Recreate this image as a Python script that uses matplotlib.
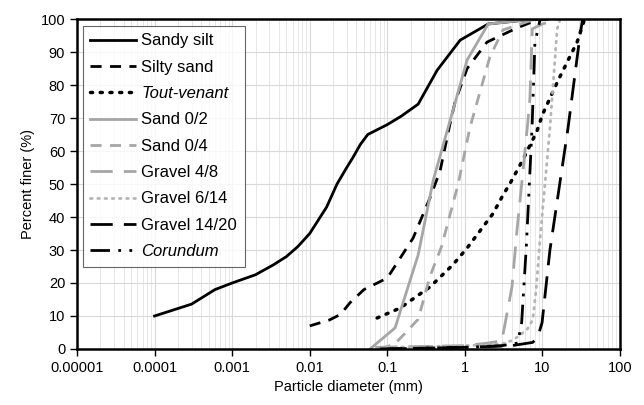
import matplotlib
matplotlib.use('Agg')
import matplotlib.pyplot as plt
from matplotlib.ticker import FixedLocator, LogLocator, NullFormatter

plt.rcParams['font.family'] = ['Liberation Sans', 'DejaVu Sans']

# grain size curves: diameter (mm) and percent finer
silt_d = [0.0001, 0.0003, 0.0006, 0.001, 0.002, 0.0034, 0.005, 0.007, 0.01, 0.0165, 0.0225, 0.03, 0.036, 0.045, 0.056, 0.1, 0.15, 0.25, 0.44, 0.87, 2, 5, 10]
silt_p = [10, 13.6, 18, 20, 22.5, 25.5, 28, 31, 35, 43, 50, 55, 58, 62, 65, 68, 70.5, 74.2, 84.5, 93.6, 98.5, 99.5, 100]

silty_d = [0.01, 0.018, 0.025, 0.033, 0.05, 0.1, 0.215, 0.355, 0.48, 0.64, 0.75, 1.07, 1.93, 4.7, 8.5, 12]
silty_p = [7, 8.8, 10.5, 14, 18, 21.5, 33.6, 45.8, 54, 68, 75, 85, 93, 97.3, 99.7, 100]

tout_d = [0.074, 0.146, 0.355, 0.7, 1.07, 2.3, 3.0, 4.0, 5.5, 8.5, 10, 16, 28, 35]
tout_p = [9.4, 12.4, 18.8, 25.5, 30.6, 41, 46, 51, 57, 66, 71, 81.5, 93, 100]

sand02_d = [0.06, 0.126, 0.25, 0.39, 1.07, 2, 5, 8]
sand02_p = [0, 6.4, 28.5, 51, 87.6, 98.5, 99.5, 100]

sand04_d = [0.08, 0.125, 0.25, 0.355, 0.5, 0.82, 1.16, 2.1, 3.1, 7, 10]
sand04_p = [0, 1.5, 9, 22, 31, 50, 67, 88.5, 96.7, 99.5, 100]

g48_d = [0.07, 1, 2, 3, 4.05, 4.7, 5.46, 6.5, 6.9, 7.4, 10, 16]
g48_p = [0.5, 1, 1.8, 2.5, 18.8, 36, 51, 69, 76, 97, 98.5, 100]

g614_d = [0.1, 1, 3, 4.2, 6.3, 7.5, 8.3, 9.3, 12.5, 15.5, 17]
g614_p = [0.5, 1, 1.5, 2.7, 5.8, 8.8, 18, 33, 67, 97, 100]

g1420_d = [0.08, 1, 4, 7.5, 8.7, 9.9, 12.5, 21.4, 30.5, 33]
g1420_p = [0, 0.5, 1, 2, 3.6, 8, 30, 67, 95, 100]

cor_d = [0.1, 1, 3, 4.8, 5.4, 6.2, 7.35, 8.0, 9.3, 10]
cor_p = [0, 0.5, 1, 1.8, 8, 31, 67, 92.7, 99.7, 100]

labels = ['Sandy silt', 'Silty sand', 'Tout-venant', 'Sand 0/2', 'Sand 0/4',
          'Gravel 4/8', 'Gravel 6/14', 'Gravel 14/20', 'Corundum']

fig = plt.figure(figsize=(6.44, 4.05), dpi=100)
ax = fig.add_axes([0.1196, 0.1383, 0.8431, 0.8147])

grey = '#a6a6a6'
ax.plot(silt_d, silt_p, color='black', lw=2, label=labels[0])
ax.plot(silty_d, silty_p, color='black', lw=2, dashes=(4, 3), label=labels[1])
ax.plot(tout_d, tout_p, color='black', lw=2.5, dashes=(0.6, 2.2), dash_capstyle='round', label=labels[2])
ax.plot(sand02_d, sand02_p, color=grey, lw=2, label=labels[3])
ax.plot(sand04_d, sand04_p, color=grey, lw=2, dashes=(4, 3), label=labels[4])
ax.plot(g48_d, g48_p, color=grey, lw=2, dashes=(8, 4), label=labels[5])
ax.plot(g614_d, g614_p, color='#b5b5b5', lw=2, dashes=(0.6, 2.0), dash_capstyle='round', label=labels[6])
ax.plot(g1420_d, g1420_p, color='black', lw=2, dashes=(8, 4), label=labels[7])
ax.plot(cor_d, cor_p, color='black', lw=2, dashes=(7, 3, 1, 3, 1, 3), label=labels[8])

ax.set_xscale('log')
ax.set_xlim(0.00001, 100)
ax.set_ylim(0, 100)
ax.xaxis.set_major_locator(FixedLocator([1e-5, 1e-4, 1e-3, 1e-2, 1e-1, 1, 10, 100]))
ax.set_xticklabels(['0.00001', '0.0001', '0.001', '0.01', '0.1', '1', '10', '100'])
ax.xaxis.set_minor_locator(LogLocator(base=10, subs=range(2, 10), numticks=20))
ax.xaxis.set_minor_formatter(NullFormatter())
ax.set_yticks(range(0, 101, 10))

ax.grid(which='major', color='#d9d9d9', lw=0.8)
ax.grid(which='minor', axis='x', color='#e3e3e3', lw=0.6)
ax.set_axisbelow(True)
ax.tick_params(axis='both', which='major', direction='out', length=5, width=1, labelsize=10.5)
ax.tick_params(axis='x', which='minor', length=0)
for s in ax.spines.values():
    s.set_linewidth(1.8)

ax.set_xlabel('Particle diameter (mm)', fontsize=10.5)
ax.set_ylabel('Percent finer (%)', fontsize=10.5)

leg = ax.legend(loc='upper left', fontsize=12, frameon=True, fancybox=False,
                edgecolor='#404040', handlelength=2.75, handletextpad=0.3,
                borderpad=0.45, labelspacing=0.68, borderaxespad=0,
                bbox_to_anchor=(0.011, 0.979))
leg.get_frame().set_linewidth(0.8)
for t in leg.get_texts():
    if t.get_text() in ('Tout-venant', 'Corundum'):
        t.set_fontstyle('italic')

fig.savefig('out.png', dpi=100)
